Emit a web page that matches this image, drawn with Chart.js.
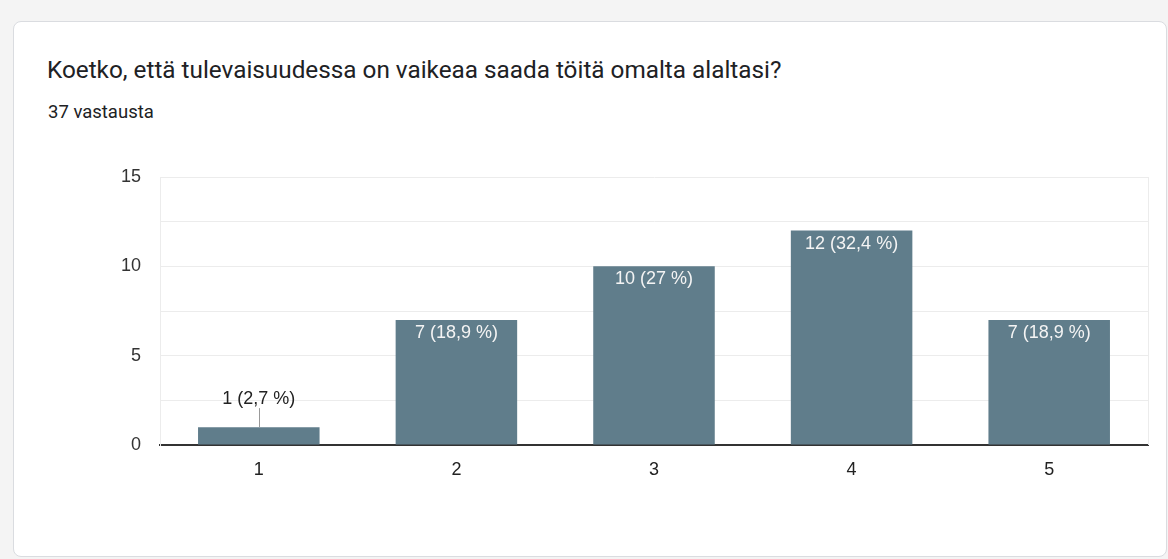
<!DOCTYPE html>
<html>
<head>
<meta charset="utf-8">
<script src="https://cdn.jsdelivr.net/npm/chart.js@4.4.1/dist/chart.umd.min.js"></script>
<style>
  html, body { margin: 0; padding: 0; }
  body {
    width: 1168px;
    height: 559px;
    background: #f4f4f4;
    position: relative;
    overflow: hidden;
    font-family: Roboto, Arial, sans-serif;
  }
  .card {
    position: absolute;
    left: 13px;
    top: 21px;
    width: 1152px;
    height: 534px;
    background: #fff;
    border: 1px solid #dadce0;
    border-radius: 8px;
  }
  .title {
    position: absolute;
    left: 47px;
    top: 55px;
    font-size: 24.3px;
    line-height: 30px;
    color: #202124;
    white-space: nowrap;
  }
  .count {
    position: absolute;
    left: 48px;
    top: 100px;
    font-size: 18.5px;
    line-height: 24px;
    color: #202124;
    white-space: nowrap;
  }
  #chart {
    position: absolute;
    left: 0;
    top: 0;
  }
</style>
</head>
<body>
<div class="card"></div>
<div class="title">Koetko, että tulevaisuudessa on vaikeaa saada töitä omalta alaltasi?</div>
<div class="count">37 vastausta</div>
<canvas id="chart" width="1168" height="559"></canvas>
<script>
const categories = ["1", "2", "3", "4", "5"];
const counts = [1, 7, 10, 12, 7];
const percentLabels = ["2,7", "18,9", "27", "32,4", "18,9"];
const yTickLabels = [0, 5, 10, 15];

const barColor = "#607d8b";
const labelFont = "18px 'Liberation Sans', Arial, sans-serif";

const valueLabels = {
  id: "valueLabels",
  afterDatasetsDraw(chart) {
    const { ctx } = chart;
    const meta = chart.getDatasetMeta(0);
    ctx.save();
    ctx.font = labelFont;
    ctx.textAlign = "center";
    ctx.textBaseline = "middle";
    meta.data.forEach((bar, i) => {
      const text = `${counts[i]} (${percentLabels[i]} %)`;
      const h = bar.base - bar.y;
      if (h < 30) {
        // small bar: label above it with a leader line
        ctx.strokeStyle = "#999";
        ctx.lineWidth = 1;
        ctx.beginPath();
        ctx.moveTo(Math.round(bar.x) + 0.5, bar.y);
        ctx.lineTo(Math.round(bar.x) + 0.5, bar.y - 19);
        ctx.stroke();
        ctx.fillStyle = "#222";
        ctx.fillText(text, bar.x, bar.y - 28);
      } else {
        ctx.fillStyle = "#f4f4f4";
        ctx.fillText(text, bar.x, bar.y + 13);
      }
    });
    ctx.restore();
  },
};

const frame = {
  id: "frame",
  beforeDatasetsDraw(chart) {
    const { ctx, chartArea } = chart;
    ctx.save();
    ctx.strokeStyle = "#ececec";
    ctx.lineWidth = 1;
    ctx.beginPath();
    ctx.moveTo(chartArea.right + 0.5, chartArea.top);
    ctx.lineTo(chartArea.right + 0.5, chartArea.bottom);
    ctx.stroke();
    ctx.restore();
  },
};

new Chart(document.getElementById("chart"), {
  type: "bar",
  data: {
    labels: categories,
    datasets: [
      {
        data: counts,
        backgroundColor: barColor,
        borderWidth: 0,
        categoryPercentage: 0.615,
        barPercentage: 1,
      },
    ],
  },
  options: {
    responsive: false,
    animation: false,
    layout: { padding: { top: 177, right: 20, bottom: 0, left: 0 } },
    plugins: {
      legend: { display: false },
      tooltip: { enabled: false },
    },
    scales: {
      x: {
        grid: { display: false },
        border: { color: "#333333", width: 2 },
        ticks: {
          color: "#222",
          font: { size: 18, family: "'Liberation Sans', Arial, sans-serif" },
          padding: 6,
        },
        afterFit: (scale) => {
          scale.height = 114;
        },
      },
      y: {
        min: 0,
        max: 15,
        grid: { color: "#ececec", drawTicks: false },
        border: { color: "#ececec" },
        ticks: {
          stepSize: 2.5,
          color: "#333",
          padding: 19,
          font: { size: 18, family: "'Liberation Sans', Arial, sans-serif" },
          callback: (v) => (yTickLabels.includes(v) ? String(v) : ""),
        },
        afterFit: (scale) => {
          scale.width = 160;
        },
      },
    },
  },
  plugins: [frame, valueLabels],
});
</script>
</body>
</html>
